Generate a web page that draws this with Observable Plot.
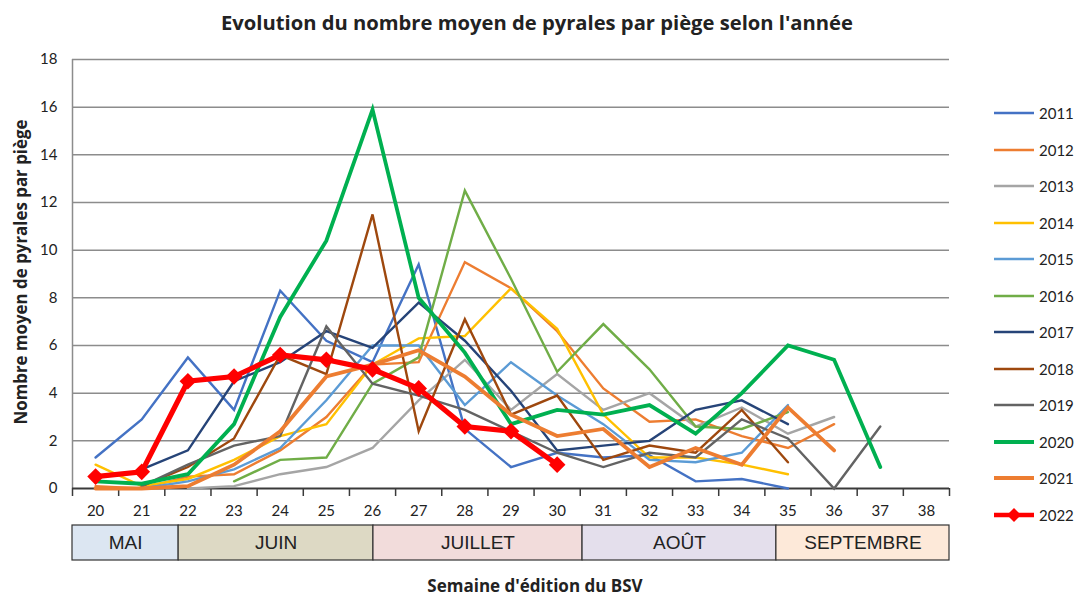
<!DOCTYPE html>
<html><head><meta charset="utf-8">
<script src="https://cdn.jsdelivr.net/npm/d3@7"></script>
<script src="https://cdn.jsdelivr.net/npm/@observablehq/plot@0.6"></script>
<style>
body{margin:0;background:#fff;}
#wrap{position:relative;width:1078px;height:598px;overflow:hidden;font-family:Lato,"Open Sans",sans-serif;color:#222;}
#title{position:absolute;left:0;top:8px;width:1074px;text-align:center;font-family:"Open Sans",Lato,sans-serif;font-weight:bold;font-size:20.2px;line-height:28px;white-space:nowrap;z-index:2;}
#ylab{position:absolute;left:20px;top:272px;transform:translate(-50%,-50%) rotate(-90deg);font-family:"Open Sans",Lato,sans-serif;font-weight:bold;font-size:16.9px;white-space:nowrap;z-index:2;}
#xlab{position:absolute;left:0;width:1070px;top:574px;text-align:center;font-family:"Open Sans",Lato,sans-serif;font-weight:bold;font-size:17px;line-height:24px;white-space:nowrap;z-index:2;}
#main{position:absolute;left:0;top:45px;z-index:1;}
#months{position:absolute;left:0;top:520px;z-index:1;}
#main svg,#months svg{display:block;}
#legend{position:absolute;left:993px;top:0;z-index:2;}
.lg{position:absolute;left:0;height:20px;display:flex;align-items:center;white-space:nowrap;font-size:15px;}
.lg svg{display:block;margin-right:4px;}
</style></head><body>
<div id="wrap">
  <div id="title">Evolution du nombre moyen de pyrales par piège selon l'année</div>
  <div id="ylab">Nombre moyen de pyrales par piège</div>
  <div id="main"></div>
  <div id="months"></div>
  <div id="xlab">Semaine d'édition du BSV</div>
  <div id="legend"></div>
</div>
<script>
// Weeks (x categories) and y tick labels
const weeks = [20,21,22,23,24,25,26,27,28,29,30,31,32,33,34,35,36,37,38];
const yTicks = [0,2,4,6,8,10,12,14,16,18];

// Series values, aligned to weeks starting at 20 (null = no value)
const s2011 = [1.3, 2.9, 5.5, 3.3, 8.3, 6.2, 5.3, 9.4, 2.5, 0.9, 1.5, 1.3, 1.4, 0.3, 0.4, 0.0];
const s2012 = [0.1, 0.0, 0.5, 0.6, 1.6, 3.0, 5.2, 5.3, 9.5, 8.4, 6.6, 4.2, 2.8, 2.9, 2.2, 1.7, 2.7];
const s2013 = [null, null, 0.0, 0.1, 0.6, 0.9, 1.7, 3.7, 5.4, 3.3, 4.8, 3.3, 4.0, 2.6, 3.4, 2.3, 3.0];
const s2014 = [1.0, 0.1, 0.4, 1.2, 2.2, 2.7, 5.2, 6.3, 6.4, 8.4, 6.7, 3.1, 1.3, 1.3, 1.0, 0.6];
const s2015 = [null, 0.0, 0.3, 0.8, 1.7, 3.7, 6.0, 6.0, 3.5, 5.3, 3.9, 2.7, 1.2, 1.1, 1.5, 3.5];
const s2016 = [null, null, null, 0.3, 1.2, 1.3, 4.4, 5.5, 12.5, 8.8, 4.9, 6.9, 5.0, 2.6, 2.5, 3.2];
const s2017 = [null, 0.8, 1.6, 4.5, 5.3, 6.6, 5.9, 7.8, 6.2, 4.1, 1.6, 1.8, 2.0, 3.3, 3.7, 2.7];
const s2018 = [null, 0.1, 0.9, 2.1, 5.6, 4.8, 11.5, 2.4, 7.1, 3.1, 3.9, 1.2, 1.8, 1.5, 3.3, 1.1];
const s2019 = [null, 0.1, 1.0, 1.8, 2.2, 6.8, 4.4, 3.9, 3.3, 2.4, 1.5, 0.9, 1.5, 1.3, 2.9, 2.1, 0.0, 2.6];
const s2020 = [0.3, 0.2, 0.6, 2.7, 7.2, 10.4, 15.9, 8.0, 5.7, 2.7, 3.3, 3.1, 3.5, 2.3, 4.0, 6.0, 5.4, 0.9];
const s2021 = [0.0, 0.0, 0.1, 1.0, 2.4, 4.7, 5.2, 5.8, 4.7, 3.1, 2.2, 2.5, 0.9, 1.7, 1.0, 3.4, 1.6];
const s2022 = [0.5, 0.7, 4.5, 4.7, 5.6, 5.4, 5.0, 4.2, 2.6, 2.4, 1.0];

const years  = ["2011","2012","2013","2014","2015","2016","2017","2018","2019","2020","2021","2022"];
const series = [s2011,s2012,s2013,s2014,s2015,s2016,s2017,s2018,s2019,s2020,s2021,s2022];
const colors = ["#4472C4","#ED7D31","#A5A5A5","#FFC000","#5B9BD5","#70AD47","#264478","#9E480E","#636363","#00B050","#ED7D31","#FF0000"];
const widths = [2.4,2.4,2.4,2.4,2.4,2.4,2.4,2.4,2.4,3.8,3.8,5.2];

// Month band below the axis (start / end in week units)
const monthNames  = ["MAI","JUIN","JUILLET","AOÛT","SEPTEMBRE"];
const monthStart  = [19.5, 21.8, 26.02, 30.55, 34.75];
const monthEnd    = [21.8, 26.02, 30.55, 34.75, 38.5];
const monthColors = ["#DCE6F2","#DDD9C4","#F2DCDB","#E4DFEC","#FDE9D9"];

const xDomain = [19.5, 38.5];
const bounds = weeks.map(w => w - 0.5).concat([weeks[weeks.length-1] + 0.5]);

const tidy = years.map((y, i) => series[i].map((v, j) => ({year: y, week: weeks[j], value: v})).filter(d => d.value != null));

const marks = [
  Plot.ruleY(yTicks.filter(t => t > 0), {stroke: "#8c8c8c", strokeWidth: 1.5}),
  Plot.ruleX([xDomain[0]], {y1: 0, y2: 18, stroke: "#8c8c8c", strokeWidth: 1.5}),
  Plot.ruleY([0], {stroke: "#3a3a3a", strokeWidth: 2}),
  Plot.axisX(bounds, {tickSize: 8, tickFormat: () => "", stroke: "#3a3a3a", strokeWidth: 1.5, label: null}),
  Plot.axisX(weeks, {tickSize: 0, tickPadding: 17, fontSize: 15, label: null}),
  Plot.axisY(yTicks, {tickSize: 0, tickPadding: 15, fontSize: 15, label: null})
];
years.forEach((y, i) => {
  marks.push(Plot.line(tidy[i], {x: "week", y: "value", stroke: colors[i], strokeWidth: widths[i], strokeLinejoin: "miter", strokeMiterlimit: 4}));
});
marks.push(Plot.dot(tidy[11], {x: "week", y: "value", symbol: "diamond2", r: 7.5, fill: "#FF0000", stroke: "none"}));

const main = Plot.plot({
  width: 1078, height: 480,
  marginLeft: 72, marginRight: 129, marginTop: 14, marginBottom: 37,
  style: {fontFamily: "Lato, 'Open Sans', sans-serif", fontSize: "15px", color: "#222", background: "transparent"},
  x: {domain: xDomain, axis: null},
  y: {domain: [0, 18], axis: null},
  marks
});
document.getElementById("main").appendChild(main);

const monthData = monthNames.map((n, i) => ({name: n, start: monthStart[i], end: monthEnd[i], color: monthColors[i]}));
const months = Plot.plot({
  width: 1078, height: 45,
  marginLeft: 72, marginRight: 129, marginTop: 5, marginBottom: 5,
  style: {fontFamily: "'Liberation Sans', Arial, sans-serif", color: "#222", background: "transparent"},
  x: {domain: xDomain, axis: null},
  color: {type: "identity"},
  marks: [
    Plot.rect(monthData, {x1: "start", x2: "end", fill: "color", stroke: "#333", strokeWidth: 1.2}),
    Plot.text(monthData, {x: d => (d.start + d.end) / 2, text: "name", frameAnchor: "middle", fontSize: 19, fill: "#222"})
  ]
});
document.getElementById("months").appendChild(months);

// Legend
const leg = document.getElementById("legend");
years.forEach((y, i) => {
  const cy = 113 + i * 36.5;
  const div = document.createElement("div");
  div.className = "lg";
  div.style.top = (cy - 10) + "px";
  let svg = `<svg width="42" height="20"><line x1="1" x2="41" y1="10" y2="10" stroke="${colors[i]}" stroke-width="${i === 11 ? 4.5 : (widths[i] > 3 ? 3.8 : 2.4)}"/>`;
  if (i === 11) svg += `<path d="M21,3 L28,10 L21,17 L14,10 Z" fill="#FF0000"/>`;
  svg += `</svg>`;
  div.innerHTML = svg + `<span>${y}</span>`;
  leg.appendChild(div);
});
</script>
</body></html>
